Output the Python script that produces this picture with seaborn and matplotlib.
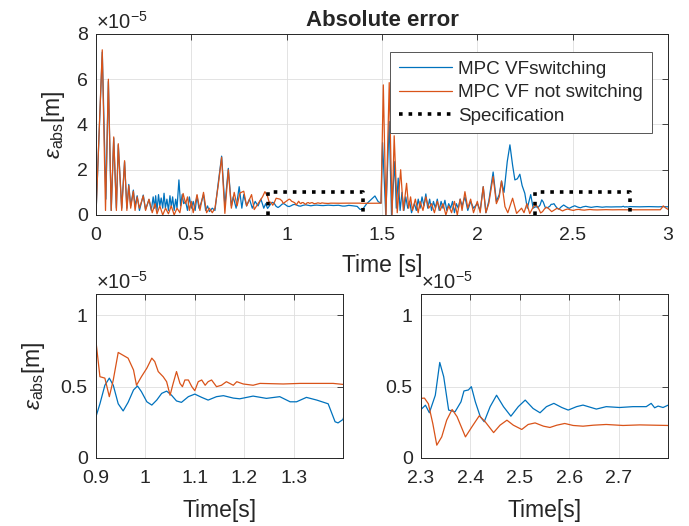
import numpy as np
import pandas as pd
import matplotlib
matplotlib.use('Agg')
import matplotlib.pyplot as plt
import seaborn as sns
from matplotlib.lines import Line2D
from matplotlib.ticker import FuncFormatter

# --- data (values in units of 1e-5 m) ---
blue_t = [0.0, 0.033, 0.052, 0.065, 0.08, 0.093, 0.107, 0.117, 0.135, 0.15, 0.162, 0.172, 0.182, 0.196, 0.205,
          0.216, 0.228, 0.248, 0.26, 0.278, 0.29, 0.3, 0.307, 0.313, 0.32, 0.328, 0.335, 0.342, 0.35, 0.357,
          0.364, 0.372, 0.38, 0.388, 0.395, 0.402, 0.41, 0.418, 0.425, 0.435, 0.444, 0.452, 0.46, 0.47, 0.48,
          0.49, 0.5, 0.51, 0.52, 0.53, 0.54, 0.55, 0.564, 0.575, 0.585, 0.595, 0.61, 0.624, 0.641, 0.659,
          0.676, 0.694, 0.71, 0.72, 0.735, 0.751, 0.765, 0.775, 0.79, 0.805, 0.82, 0.835, 0.85, 0.865, 0.88,
          0.89,
          0.9, 0.908, 0.918, 0.927, 0.935, 0.945, 0.955, 0.965, 0.976, 0.984, 0.992, 1.003, 1.013, 1.023,
          1.033, 1.043, 1.053, 1.063, 1.073, 1.087, 1.1, 1.114, 1.127, 1.144, 1.158, 1.178, 1.191, 1.218,
          1.245, 1.272, 1.293, 1.306, 1.326, 1.347, 1.37, 1.384, 1.39, 1.4,
          1.42, 1.463, 1.48, 1.495, 1.503, 1.52, 1.538, 1.55, 1.567, 1.575, 1.585, 1.595, 1.605, 1.615,
          1.625, 1.635, 1.645, 1.655, 1.67, 1.68, 1.69, 1.7, 1.71, 1.72, 1.73, 1.74, 1.75, 1.76, 1.77, 1.78,
          1.79, 1.8, 1.81, 1.82, 1.83, 1.84, 1.85, 1.86, 1.87, 1.88, 1.89, 1.9, 1.91, 1.92, 1.935, 1.95,
          1.965, 1.98, 2.0, 2.015, 2.031, 2.045, 2.06, 2.083, 2.1, 2.115, 2.127, 2.14, 2.157, 2.171, 2.185,
          2.197, 2.21, 2.223, 2.235, 2.249, 2.262, 2.28, 2.293,
          2.3, 2.309, 2.317, 2.329, 2.338, 2.346, 2.356, 2.369, 2.381, 2.387, 2.396, 2.402, 2.41, 2.42,
          2.428, 2.44, 2.453, 2.467, 2.482, 2.497, 2.511, 2.527, 2.541, 2.554, 2.569, 2.585, 2.598, 2.615,
          2.628, 2.655, 2.675, 2.702, 2.729, 2.756, 2.766, 2.773, 2.78, 2.79, 2.8,
          2.85, 2.9, 2.95, 2.975, 3.0]
blue_v = [0.0, 7.2, 0.7, 5.9, 0.2, 3.4, 0.3, 3.1, 0.3, 2.35, 0.3, 1.35, 0.4, 1.1, 0.4,
          0.85, 0.2, 0.88, 0.25, 0.68, 0.2, 0.8, 0.3, 0.85, 0.2, 0.9, 0.4, 0.75, 0.3, 0.96,
          0.3, 0.7, 0.2, 0.85, 0.35, 0.8, 0.2, 0.7, 0.3, 1.55, 0.4, 0.9, 0.5, 0.6, 0.2,
          0.8, 0.3, 0.6, 0.2, 0.85, 0.3, 0.5, 0.9, 0.2, 0.4, 0.15, 0.3, 0.2, 1.4, 2.6,
          0.4, 2.06, 0.4, 0.8, 0.3, 1.25, 0.3, 0.9, 0.4, 0.7, 0.3, 0.6, 0.4, 0.7, 0.3,
          0.5,
          0.29, 0.38, 0.51, 0.56, 0.51, 0.38, 0.33, 0.39, 0.477, 0.505, 0.465, 0.394, 0.371, 0.406,
          0.453, 0.469, 0.44, 0.40, 0.39, 0.43, 0.448, 0.425, 0.406, 0.43, 0.437, 0.42, 0.415, 0.434,
          0.418, 0.43, 0.394, 0.394, 0.425, 0.406, 0.38, 0.254, 0.246, 0.27,
          0.5, 0.84, 0.59, 0.52, 3.2, 0.0, 4.13, 0.0, 2.36, 0.3, 1.63, 0.2, 1.0, 0.2,
          0.8, 0.3, 0.6, 0.1, 0.5, 0.2, 0.7, 0.3, 0.8, 0.4, 0.93, 0.3, 0.7, 0.2, 0.6, 0.3,
          0.7, 0.2, 0.6, 0.3, 0.65, 0.2, 0.5, 0.3, 0.6, 0.1, 0.5, 0.3, 0.7, 0.4, 0.8, 0.2,
          0.6, 0.3, 0.5, 0.2, 1.25, 0.1, 0.6, 1.9, 0.6, 0.9, 1.5, 1.0, 2.36, 3.1, 2.2,
          1.55, 1.6, 1.8, 1.3, 0.96, 0.3, 0.9, 0.3,
          0.34, 0.37, 0.317, 0.44, 0.67, 0.57, 0.336, 0.324, 0.394, 0.47, 0.477, 0.5, 0.394, 0.29,
          0.254, 0.36, 0.44, 0.36, 0.293, 0.36, 0.406, 0.347, 0.317, 0.36, 0.383, 0.354, 0.336, 0.36,
          0.371, 0.343, 0.36, 0.354, 0.36, 0.36, 0.383, 0.352, 0.364, 0.354, 0.37,
          0.36, 0.37, 0.36, 0.37, 0.36]

orange_t = [0.0, 0.033, 0.05, 0.065, 0.08, 0.093, 0.107, 0.117, 0.135, 0.15, 0.162, 0.172, 0.182, 0.196,
            0.205, 0.216, 0.228, 0.248, 0.26, 0.278, 0.295, 0.31, 0.32, 0.335, 0.35, 0.365, 0.38, 0.395,
            0.41, 0.425, 0.44, 0.457, 0.47, 0.48, 0.49, 0.5, 0.51, 0.53, 0.545, 0.564, 0.58, 0.595, 0.61,
            0.624, 0.641, 0.659, 0.676, 0.694, 0.71, 0.725, 0.74, 0.755, 0.775, 0.79, 0.816, 0.83, 0.85,
            0.874, 0.886,
            0.9, 0.908, 0.918, 0.927, 0.935, 0.945, 0.955, 0.965, 0.976, 0.982, 0.992, 1.003, 1.013, 1.019,
            1.026, 1.036, 1.043, 1.05, 1.056, 1.063, 1.07, 1.075, 1.08, 1.087, 1.094, 1.1, 1.107, 1.114,
            1.121, 1.127, 1.134, 1.144, 1.154, 1.164, 1.178, 1.185, 1.198, 1.218, 1.232, 1.279, 1.313,
            1.38, 1.4,
            1.495, 1.507, 1.521, 1.538, 1.553, 1.564, 1.58, 1.598, 1.612, 1.629, 1.64, 1.65, 1.66, 1.675,
            1.69, 1.7, 1.715, 1.73, 1.745, 1.76, 1.775, 1.79, 1.805, 1.82, 1.835, 1.85, 1.865, 1.88, 1.895,
            1.91, 1.92, 1.935, 1.95, 1.965, 1.98, 2.0, 2.015, 2.031, 2.045, 2.06, 2.083, 2.1, 2.115, 2.127,
            2.145, 2.16, 2.185, 2.206, 2.232, 2.245, 2.26, 2.275, 2.29,
            2.3, 2.307, 2.315, 2.324, 2.332, 2.342, 2.352, 2.363, 2.373, 2.39, 2.403, 2.418, 2.43, 2.447,
            2.46, 2.474, 2.487, 2.504, 2.517, 2.531, 2.548, 2.561, 2.575, 2.591, 2.608, 2.628, 2.649, 2.675,
            2.709, 2.743, 2.8,
            2.96, 2.975, 2.99, 3.0]
orange_v = [0.0, 7.3, 0.2, 6.0, 0.2, 3.45, 0.2, 3.15, 0.2, 2.4, 0.2, 1.3, 0.3, 1.05,
            0.2, 0.8, 0.3, 0.85, 0.2, 0.7, 0.1, 0.5, 0.05, 0.4, 0.0, 0.3, 0.05, 0.4,
            0.0, 0.3, 0.1, 0.95, 0.5, 0.8, 0.2, 0.6, 0.1, 0.9, 0.2, 1.0, 0.1, 0.3, 0.1,
            0.3, 1.3, 2.55, 0.07, 2.0, 0.3, 1.0, 0.4, 0.97, 1.05, 0.4, 0.9, 0.24, 0.5,
            0.81, 1.03,
            0.817, 0.57, 0.56, 0.43, 0.547, 0.74, 0.72, 0.70, 0.617, 0.51, 0.57, 0.63, 0.70, 0.676,
            0.606, 0.57, 0.535, 0.44, 0.52, 0.606, 0.523, 0.5, 0.547, 0.547, 0.5, 0.472, 0.535, 0.547,
            0.51, 0.535, 0.547, 0.5, 0.51, 0.535, 0.51, 0.535, 0.519, 0.51, 0.523, 0.519, 0.523,
            0.523, 0.516,
            0.52, 5.75, 0.0, 5.85, 0.0, 3.5, 0.1, 2.0, 0.2, 1.4, 0.3, 0.8, 0.2, 0.7,
            0.1, 0.6, 0.2, 0.8, 0.3, 0.5, 0.1, 0.6, 0.2, 0.5, 0.0, 0.4, 0.1, 0.6, 0.0,
            0.7, 0.2, 1.03, 0.3, 0.7, 0.1, 0.6, 0.1, 1.25, 0.1, 0.5, 1.7, 0.5, 0.8, 1.5,
            0.37, 0.1, 0.74, 0.07, 0.3, 0.1, 0.5, 0.06, 0.3,
            0.418, 0.42, 0.38, 0.24, 0.09, 0.148, 0.265, 0.34, 0.29, 0.148, 0.218, 0.296, 0.254, 0.178,
            0.23, 0.265, 0.23, 0.2, 0.235, 0.246, 0.223, 0.214, 0.23, 0.242, 0.228, 0.223, 0.23, 0.235,
            0.228, 0.232, 0.228,
            0.23, 0.4, 0.3, 0.25]

spec_t = [0.9, 0.9, 1.4, 1.4, 2.3, 2.3, 2.8, 2.8]
spec_v = [0.0, 1.0, 1.0, 0.0, 0.0, 1.0, 1.0, 0.0]
spec_box = [1, 1, 1, 1, 2, 2, 2, 2]

labels = ['MPC VFswitching', 'MPC VF not switching', 'Specification']
colors = ['#0072BD', '#D95319']

sns.set_style('white')
plt.rcParams['font.family'] = ['Liberation Sans', 'DejaVu Sans']
plt.rcParams['mathtext.fontset'] = 'custom'
plt.rcParams['mathtext.rm'] = 'Liberation Sans'
plt.rcParams['mathtext.it'] = 'Liberation Sans:italic'

df = pd.concat([
    pd.DataFrame({'t': blue_t, 'v': blue_v, 'series': labels[0]}),
    pd.DataFrame({'t': orange_t, 'v': orange_v, 'series': labels[1]}),
], ignore_index=True)
spec_df = pd.DataFrame({'t': spec_t, 'v': spec_v, 'box': spec_box})

GRAY = '#262626'
fmt = FuncFormatter(lambda v, p: f'{v:g}')


def style(ax):
    ax.tick_params(direction='in', length=4, width=0.6, top=True, right=True,
                   labelsize=14, colors=GRAY)
    ax.tick_params(axis='x', pad=9)
    ax.tick_params(axis='y', pad=6)
    for s in ax.spines.values():
        s.set_color(GRAY)
        s.set_linewidth(0.7)
    ax.grid(True, color='#dedede', lw=0.6)
    ax.set_axisbelow(True)
    ax.xaxis.set_major_formatter(fmt)
    ax.yaxis.set_major_formatter(fmt)
    ax.text(0.0, 1.005, r'$\times10^{-5}$', transform=ax.transAxes, ha='left', va='bottom',
            fontsize=14.5, color=GRAY)


def draw(ax):
    sns.lineplot(data=df, x='t', y='v', hue='series', palette=colors, estimator=None,
                 sort=False, lw=0.9, legend=False, ax=ax)


fig = plt.figure(figsize=(6.89, 5.26), dpi=100)
ax_top = fig.add_axes([0.1393, 0.5913, 0.8302, 0.3441])
ax_bl = fig.add_axes([0.1393, 0.1293, 0.3585, 0.3118])
ax_br = fig.add_axes([0.611, 0.1293, 0.3585, 0.3118])

# top panel
draw(ax_top)
sns.lineplot(data=spec_df, x='t', y='v', units='box', estimator=None, sort=False,
             color='black', ls=':', lw=2.6, ax=ax_top)
ax_top.set_xlim(0, 3)
ax_top.set_ylim(0, 8)
ax_top.set_xticks([0, 0.5, 1, 1.5, 2, 2.5, 3])
ax_top.set_yticks([0, 2, 4, 6, 8])
style(ax_top)
ax_top.set_title('Absolute error', fontsize=16, fontweight='bold', pad=6)
ax_top.set_xlabel('Time [s]', fontsize=16.5, color=GRAY, labelpad=7)
ax_top.set_ylabel(r'$\epsilon_{\mathrm{abs}}$[m]', fontsize=16.5, color=GRAY, labelpad=7)
handles = [Line2D([], [], color=colors[0], lw=0.9),
           Line2D([], [], color=colors[1], lw=0.9),
           Line2D([], [], color='black', ls=':', lw=2.6)]
leg = ax_top.legend(handles, labels, loc='upper right', bbox_to_anchor=(0.9715, 0.899),
                    borderaxespad=0, fancybox=False, framealpha=1, edgecolor='#555555',
                    fontsize=13.6, handlelength=2.8, handletextpad=0.35, borderpad=0.45,
                    labelspacing=0.32)
leg.get_frame().set_linewidth(0.7)

# bottom left zoom
draw(ax_bl)
ax_bl.set_xlim(0.9, 1.4)
ax_bl.set_ylim(0, 1.15)
ax_bl.set_xticks([0.9, 1.0, 1.1, 1.2, 1.3])
ax_bl.set_yticks([0, 0.5, 1])
style(ax_bl)
ax_bl.set_xlabel('Time[s]', fontsize=16.5, color=GRAY, labelpad=8)
ax_bl.set_ylabel(r'$\epsilon_{\mathrm{abs}}$[m]', fontsize=16.5, color=GRAY, labelpad=10)

# bottom right zoom
draw(ax_br)
ax_br.set_xlim(2.3, 2.8)
ax_br.set_ylim(0, 1.15)
ax_br.set_xticks([2.3, 2.4, 2.5, 2.6, 2.7])
ax_br.set_yticks([0, 0.5, 1])
style(ax_br)
ax_br.set_xlabel('Time[s]', fontsize=16.5, color=GRAY, labelpad=8)
ax_br.set_ylabel('')

fig.savefig('out.png', dpi=100)
